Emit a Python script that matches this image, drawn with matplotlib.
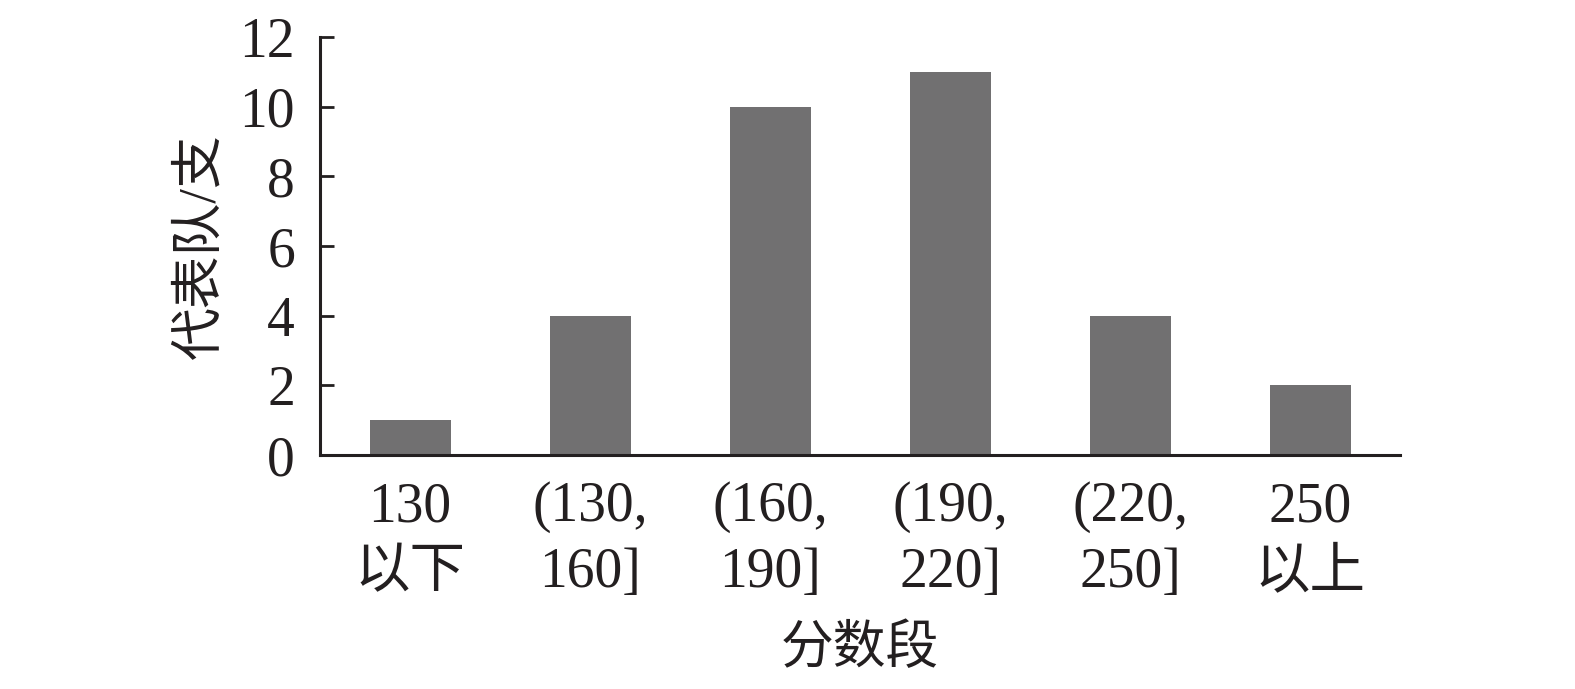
import matplotlib
matplotlib.use("Agg")
import matplotlib.pyplot as plt

plt.rcParams['font.family'] = ['Liberation Serif', 'Noto Sans CJK SC']

# data
categories = ["130\n以下", "(130,\n160]", "(160,\n190]", "(190,\n220]", "(220,\n250]", "250\n以上"]
teams = [1, 4, 10, 11, 4, 2]
y_ticks = [0, 2, 4, 6, 8, 10, 12]

bar_color = "#717071"
ink = "#231f20"

fig = plt.figure(figsize=(15.75, 6.89), dpi=100)
ax = fig.add_axes([0.2032, 0.3396, 0.6857, 0.6067])

x = range(len(categories))
ax.bar(x, teams, width=0.45, color=bar_color)

ax.set_xlim(-0.5, len(categories) - 0.5)
ax.set_ylim(0, 12)
ax.set_yticks(y_ticks)
ax.set_xticks(list(x))
ax.set_xticklabels(categories, linespacing=1.35)

for side in ["top", "right"]:
    ax.spines[side].set_visible(False)
for side in ["left", "bottom"]:
    ax.spines[side].set_linewidth(2.2)
    ax.spines[side].set_color(ink)

ax.tick_params(axis="y", direction="in", length=10, width=2, color=ink,
               labelsize=40, pad=18, labelcolor=ink)
ax.tick_params(axis="x", length=0, labelsize=40, pad=19, labelcolor=ink)

ax.set_ylabel("代表队/支", fontsize=38, color=ink, labelpad=10)
ax.set_xlabel("分数段", fontsize=38, color=ink, labelpad=18)

fig.savefig("out.png", dpi=100)
